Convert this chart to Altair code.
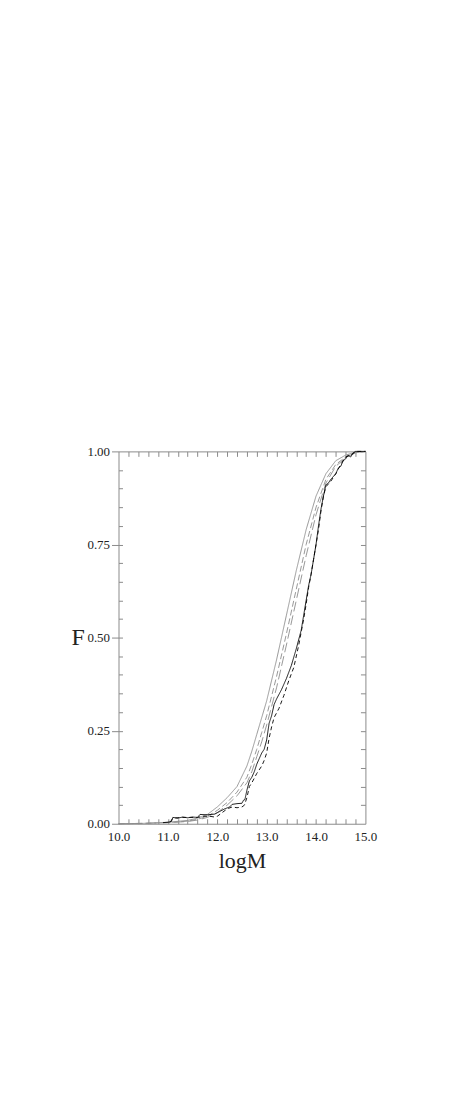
import altair as alt
import pandas as pd

# ---- data ----
grid_logM = [10.0, 10.5, 11.0, 11.4, 11.6, 11.8, 12.0, 12.2, 12.4, 12.6, 12.7, 12.8, 12.9,
             13.0, 13.2, 13.4, 13.6, 13.8, 14.0, 14.2, 14.4, 14.6, 14.8, 15.0]
model_solid = [0.0, 0.001, 0.004, 0.009, 0.015, 0.025, 0.045, 0.07, 0.10, 0.155, 0.195, 0.24, 0.285,
               0.33, 0.44, 0.56, 0.68, 0.79, 0.88, 0.94, 0.975, 0.99, 0.998, 1.0]
model_dash = [0.0, 0.001, 0.003, 0.007, 0.012, 0.02, 0.036, 0.057, 0.085, 0.125, 0.16, 0.2, 0.245,
              0.29, 0.395, 0.51, 0.63, 0.75, 0.85, 0.925, 0.965, 0.985, 0.997, 1.0]
model_longdash = [0.0, 0.001, 0.003, 0.006, 0.01, 0.017, 0.03, 0.05, 0.075, 0.11, 0.14, 0.18, 0.22,
                  0.265, 0.365, 0.48, 0.6, 0.72, 0.83, 0.915, 0.96, 0.983, 0.996, 1.0]

obs_logM = [10.9, 11.0, 11.07, 11.1, 11.2, 11.3, 11.4, 11.5, 11.6, 11.65, 11.8, 11.95, 12.05, 12.15,
            12.25, 12.3, 12.4, 12.5, 12.53, 12.56, 12.6, 12.65, 12.7, 12.75, 12.8, 12.85, 12.9,
            12.95, 13.0, 13.05, 13.1, 13.15, 13.2, 13.3, 13.4, 13.5, 13.6, 13.7, 13.75, 13.8,
            13.85, 13.9, 13.95, 14.0, 14.05, 14.1, 14.15, 14.2, 14.25, 14.3, 14.4, 14.45, 14.5,
            14.55, 14.6, 14.65, 14.7, 14.75, 14.8, 15.0]
obs_F = [0.003, 0.004, 0.006, 0.017, 0.015, 0.018, 0.016, 0.018, 0.017, 0.025, 0.024, 0.026, 0.033,
         0.04, 0.045, 0.052, 0.054, 0.055, 0.063, 0.065, 0.09, 0.115, 0.125, 0.14, 0.16, 0.175,
         0.19, 0.2, 0.225, 0.27, 0.29, 0.32, 0.335, 0.36, 0.39, 0.425, 0.47, 0.52, 0.56, 0.6,
         0.64, 0.67, 0.71, 0.75, 0.8, 0.845, 0.88, 0.91, 0.915, 0.925, 0.94, 0.955, 0.96, 0.975,
         0.98, 0.99, 0.985, 0.995, 1.0, 1.0]

obs2_logM = [11.05, 11.1, 11.3, 11.6, 11.7, 11.85, 11.95, 12.0, 12.1, 12.2, 12.3, 12.4, 12.5,
             12.55, 12.6, 12.65, 12.7, 12.8, 12.9, 12.95, 13.0, 13.05, 13.1, 13.15, 13.25, 13.35,
             13.45, 13.55, 13.65, 13.75, 13.8, 13.85, 13.9, 13.95, 14.0, 14.05, 14.1, 14.15, 14.2,
             14.3, 14.4, 14.5, 14.6, 14.7, 14.8, 15.0]
obs2_F = [0.005, 0.015, 0.017, 0.017, 0.02, 0.02, 0.018, 0.02, 0.03, 0.04, 0.045, 0.043, 0.045,
          0.05, 0.07, 0.1, 0.11, 0.135, 0.155, 0.17, 0.19, 0.23, 0.26, 0.285, 0.31, 0.345,
          0.385, 0.42, 0.48, 0.55, 0.59, 0.635, 0.67, 0.71, 0.75, 0.79, 0.84, 0.88, 0.905,
          0.92, 0.94, 0.965, 0.985, 0.99, 1.0, 1.0]

x_major = [10.0, 11.0, 12.0, 13.0, 14.0, 15.0]
x_minor = [10.2, 10.4, 10.6, 10.8, 11.0, 11.2, 11.4, 11.6, 11.8, 12.0, 12.2, 12.4, 12.6, 12.8,
           13.0, 13.2, 13.4, 13.6, 13.8, 14.0, 14.2, 14.4, 14.6, 14.8]
y_major = [0.0, 0.25, 0.5, 0.75, 1.0]
y_minor = [0.05, 0.1, 0.15, 0.2, 0.25, 0.3, 0.35, 0.4, 0.45, 0.5, 0.55, 0.6, 0.65, 0.7, 0.75,
           0.8, 0.85, 0.9, 0.95]

series_names = ["model1", "model2", "model3", "obs1", "obs2"]

frames = [
    pd.DataFrame({"logM": grid_logM, "F": model_solid, "series": "model1"}),
    pd.DataFrame({"logM": grid_logM, "F": model_dash, "series": "model2"}),
    pd.DataFrame({"logM": grid_logM, "F": model_longdash, "series": "model3"}),
    pd.DataFrame({"logM": obs_logM, "F": obs_F, "series": "obs1"}),
    pd.DataFrame({"logM": obs2_logM, "F": obs2_F, "series": "obs2"}),
]
df = pd.concat(frames, ignore_index=True)
df["order"] = df.index

xs = alt.Scale(domain=[10, 15], nice=False, zero=False)
ys = alt.Scale(domain=[0, 1], nice=False, zero=False)

FONT = "Liberation Serif"
AX = "#8a8a8a"

lines = alt.Chart(df).mark_line(interpolate="linear").encode(
    x=alt.X("logM:Q", scale=xs,
            axis=alt.Axis(values=x_major, format=".1f", tickSize=0, labelPadding=7,
                          domain=False, grid=False, title="logM", titleFontSize=22,
                          titleFont=FONT, titleFontWeight="normal", titleBaseline="alphabetic",
                          titleY=44, labelFont=FONT, labelFontSize=13, labelColor="#222",
                          labelFlush=False, titleColor="#222")),
    y=alt.Y("F:Q", scale=ys,
            axis=alt.Axis(values=y_major, format=".2f", tickSize=7, tickColor=AX, labelPadding=2,
                          domain=False, grid=False, title="F", titleAngle=0, titleX=-41,
                          titleY=187, titleAlign="center", titleBaseline="middle",
                          titleFontSize=24, titleFont=FONT, titleFontWeight="normal",
                          labelFont=FONT, labelFontSize=13, labelColor="#222", titleColor="#222",
                          labelFlush=False)),
    color=alt.Color("series:N", scale=alt.Scale(domain=series_names,
                    range=["#8c8c8c", "#8c8c8c", "#8c8c8c", "#000000", "#000000"]), legend=None),
    strokeDash=alt.StrokeDash("series:N", scale=alt.Scale(domain=series_names,
                    range=[[1, 0], [6, 3], [10, 4], [1, 0], [4, 3]]), legend=None),
    strokeWidth=alt.StrokeWidth("series:O", scale=alt.Scale(domain=series_names,
                    range=[0.9, 0.9, 0.9, 2.5, 2.5]), legend=None),
    order="order:Q",
)

ticks_df = pd.DataFrame({"logM": [10.0, 15.0], "F": [0.0, 1.0]})


def tick_layer(xaxis, yaxis):
    return alt.Chart(ticks_df).mark_point(opacity=0).encode(
        x=alt.X("logM:Q", scale=xs, axis=xaxis),
        y=alt.Y("F:Q", scale=ys, axis=yaxis),
    )


common = dict(labels=False, domain=False, grid=False, title=None, tickColor=AX, tickWidth=1)
bottom_minor = tick_layer(alt.Axis(orient="bottom", values=x_minor, offset=-5, tickSize=5, **common), None)
top_minor = tick_layer(alt.Axis(orient="top", values=x_minor, offset=-5, tickSize=5, **common), None)
left_minor = tick_layer(None, alt.Axis(orient="left", values=y_minor, offset=-4, tickSize=4, **common))
right_minor = tick_layer(None, alt.Axis(orient="right", values=y_minor, offset=-5, tickSize=5, **common))

chart = alt.layer(lines, bottom_minor, top_minor, left_minor, right_minor).resolve_axis(
    x="independent", y="independent"
).properties(
    width=248, height=374,
    autosize=alt.AutoSizeParams(type="none"),
    padding={"left": 111, "top": 443, "right": 95, "bottom": 250},
).configure_view(stroke=AX, strokeWidth=1)

chart.save("out.html", embed_options={"renderer": "svg", "actions": False})
